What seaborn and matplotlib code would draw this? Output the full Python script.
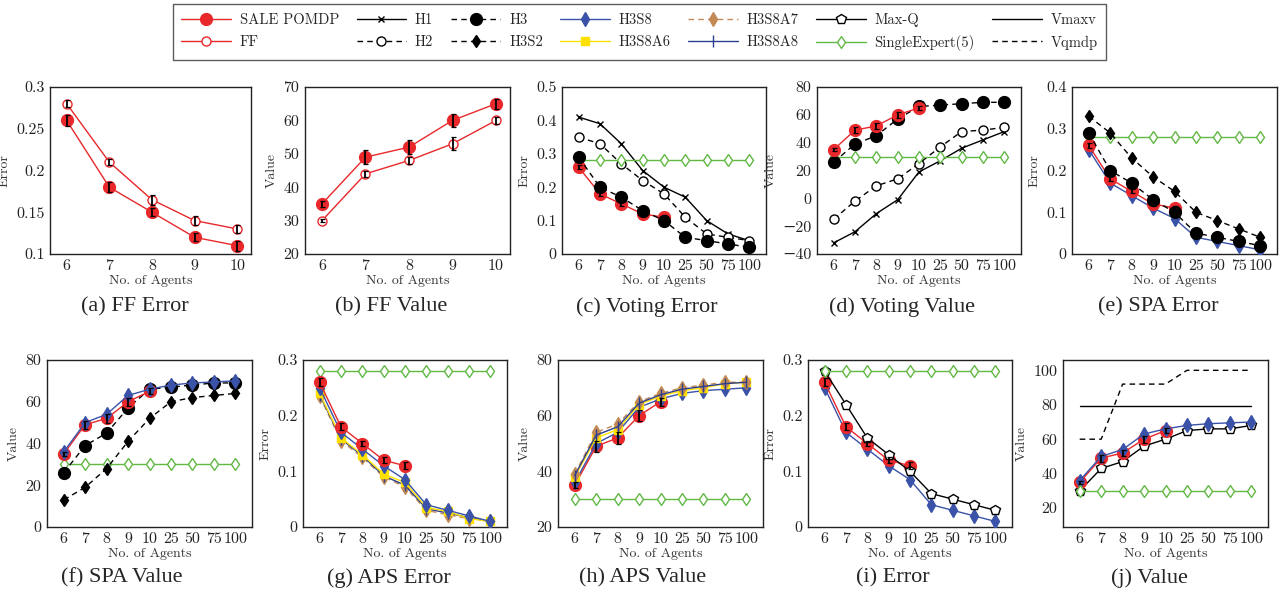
import numpy as np
import matplotlib.pyplot as plt
import seaborn as sns
from matplotlib.lines import Line2D

# x categories (evenly spaced on the axis)
AGENTS = [6, 7, 8, 9, 10, 25, 50, 75, 100]
FF_AGENTS = [6, 7, 8, 9, 10]

# SALE POMDP / FF (only up to 10 agents), with std bars
sale_err = [0.26, 0.18, 0.15, 0.12, 0.11]
sale_err_sd = [0.007, 0.006, 0.005, 0.005, 0.006]
sale_val = [35, 49, 52, 60, 65]
sale_val_sd = [1, 2, 2, 2, 1.5]
ff_err = [0.28, 0.21, 0.165, 0.14, 0.13]
ff_err_sd = [0.004, 0.004, 0.006, 0.005, 0.005]
ff_val = [30, 44, 48, 53, 60]
ff_val_sd = [0.5, 1, 1, 2, 1]

# heuristics
h1_err = [0.41, 0.39, 0.33, 0.25, 0.20, 0.17, 0.10, 0.06, 0.04]
h2_err = [0.35, 0.33, 0.27, 0.22, 0.18, 0.11, 0.06, 0.05, 0.04]
h3_err = [0.29, 0.20, 0.17, 0.13, 0.10, 0.05, 0.04, 0.03, 0.02]
h1_val = [-32, -24, -11, -1, 19, 27, 36, 42, 48]
h2_val = [-15, -2, 9, 14, 25, 37, 48, 49, 51]
h3_val = [26, 39, 45, 57, 66, 67, 68, 69, 69]
h3s2_err = [0.33, 0.29, 0.23, 0.185, 0.15, 0.10, 0.08, 0.06, 0.04]
h3s2_val = [13, 19, 28, 41, 52, 60, 62, 63, 64]
h3s8_err = [0.25, 0.17, 0.14, 0.11, 0.085, 0.04, 0.03, 0.02, 0.01]
h3s8_val = [36, 50, 54, 63, 66, 68, 69, 69.5, 70]
h3s8a6_err = [0.24, 0.16, 0.13, 0.095, 0.08, 0.035, 0.028, 0.015, 0.01]
h3s8a6_val = [38, 52, 55, 64, 67, 69, 70, 71.5, 72]
h3s8a7_err = [0.235, 0.155, 0.125, 0.09, 0.072, 0.03, 0.022, 0.015, 0.01]
h3s8a7_val = [39, 54, 57, 65, 68, 70, 71, 72, 72]
h3s8a8_err = [0.238, 0.158, 0.128, 0.092, 0.075, 0.033, 0.025, 0.017, 0.01]
h3s8a8_val = [38.5, 53, 56, 64.5, 67.5, 69.5, 70.5, 71.5, 72]
maxq_err = [0.28, 0.22, 0.16, 0.13, 0.10, 0.06, 0.05, 0.04, 0.03]
maxq_val = [30, 43, 47, 56, 60, 65, 66, 66, 68]
single_err = [0.28, 0.28, 0.28, 0.28, 0.28, 0.28, 0.28, 0.28, 0.28]
single_val = [30, 30, 30, 30, 30, 30, 30, 30, 30]
vmaxv = [79.5, 79.5, 79.5, 79.5, 79.5, 79.5, 79.5, 79.5, 79.5]
vqmdp = [60, 60, 92, 92, 92, 100, 100, 100, 100]

RED = "#e8282b"
BLUE = "#3a52a8"
NAVY = "#2b3f8f"
BROWN = "#c38a55"
YELLOW = "#ffe100"
GREEN = "#62b845"
DASH = (0, (4, 3))

STYLE = {
    "SALE POMDP": dict(color=RED, marker="o", ms=8.5, mfc=RED, mec=RED, ls="-"),
    "FF": dict(color=RED, marker="o", ms=6.5, mfc="white", mec=RED, ls="-"),
    "H1": dict(color="black", marker="x", ms=5, mfc="black", mec="black", ls="-"),
    "H2": dict(color="black", marker="o", ms=6.5, mfc="white", mec="black", ls=DASH),
    "H3": dict(color="black", marker="o", ms=8.5, mfc="black", mec="black", ls=DASH),
    "H3S2": dict(color="black", marker="d", ms=6.5, mfc="black", mec="black", ls=DASH),
    "H3S8": dict(color=BLUE, marker="d", ms=7, mfc=BLUE, mec=BLUE, ls="-"),
    "H3S8A6": dict(color=YELLOW, marker="s", ms=6, mfc=YELLOW, mec=YELLOW, ls="-"),
    "H3S8A7": dict(color=BROWN, marker="d", ms=7, mfc=BROWN, mec=BROWN, ls=DASH),
    "H3S8A8": dict(color=NAVY, marker="|", ms=8, mfc=NAVY, mec=NAVY, ls="-"),
    "Max-Q": dict(color="black", marker="p", ms=7.5, mfc="white", mec="black", ls="-"),
    "SingleExpert(5)": dict(color=GREEN, marker="d", ms=6.5, mfc="white", mec=GREEN, ls="-"),
    "Vmaxv": dict(color="black", marker="None", ms=0, mfc="black", mec="black", ls="-"),
    "Vqmdp": dict(color="black", marker="None", ms=0, mfc="black", mec="black", ls=DASH),
}

ERR_TICKS_FF = [0.1, 0.15, 0.2, 0.25, 0.3]

# caption, ylabel, ylim, yticks, x categories, [(series, values, sd)]
PANELS = [
    ("(a) FF Error", "Error", (0.1, 0.3), ERR_TICKS_FF, FF_AGENTS,
     [("FF", ff_err, ff_err_sd), ("SALE POMDP", sale_err, sale_err_sd)]),
    ("(b) FF Value", "Value", (20, 70), [20, 30, 40, 50, 60, 70], FF_AGENTS,
     [("FF", ff_val, ff_val_sd), ("SALE POMDP", sale_val, sale_val_sd)]),
    ("(c) Voting Error", "Error", (0, 0.5), [0, 0.1, 0.2, 0.3, 0.4, 0.5], AGENTS,
     [("H1", h1_err, None), ("H2", h2_err, None), ("SingleExpert(5)", single_err, None),
      ("SALE POMDP", sale_err, sale_err_sd), ("H3", h3_err, None)]),
    ("(d) Voting Value", "Value", (-40, 80), [-40, -20, 0, 20, 40, 60, 80], AGENTS,
     [("H1", h1_val, None), ("H2", h2_val, None), ("SingleExpert(5)", single_val, None),
      ("H3", h3_val, None), ("SALE POMDP", sale_val, sale_val_sd)]),
    ("(e) SPA Error", "Error", (0, 0.4), [0, 0.1, 0.2, 0.3, 0.4], AGENTS,
     [("SingleExpert(5)", single_err, None), ("H3S8", h3s8_err, None),
      ("SALE POMDP", sale_err, sale_err_sd), ("H3", h3_err, None), ("H3S2", h3s2_err, None)]),
    ("(f) SPA Value", "Value", (0, 80), [0, 20, 40, 60, 80], AGENTS,
     [("SingleExpert(5)", single_val, None), ("H3S2", h3s2_val, None), ("H3", h3_val, None),
      ("SALE POMDP", sale_val, sale_val_sd), ("H3S8", h3s8_val, None)]),
    ("(g) APS Error", "Error", (0, 0.3), [0, 0.1, 0.2, 0.3], AGENTS,
     [("SingleExpert(5)", single_err, None), ("H3S8A7", h3s8a7_err, None),
      ("H3S8A8", h3s8a8_err, None), ("H3S8A6", h3s8a6_err, None), ("H3S8", h3s8_err, None),
      ("SALE POMDP", sale_err, sale_err_sd)]),
    ("(h) APS Value", "Value", (20, 80), [20, 40, 60, 80], AGENTS,
     [("SingleExpert(5)", single_val, None), ("SALE POMDP", sale_val, sale_val_sd),
      ("H3S8", h3s8_val, None), ("H3S8A6", h3s8a6_val, None), ("H3S8A7", h3s8a7_val, None),
      ("H3S8A8", h3s8a8_val, None)]),
    ("(i) Error", "Error", (0, 0.3), [0, 0.1, 0.2, 0.3], AGENTS,
     [("H3S8", h3s8_err, None), ("SALE POMDP", sale_err, sale_err_sd),
      ("Max-Q", maxq_err, None), ("SingleExpert(5)", single_err, None)]),
    ("(j) Value", "Value", (9, 106), [20, 40, 60, 80, 100], AGENTS,
     [("Vmaxv", vmaxv, None), ("Vqmdp", vqmdp, None), ("Max-Q", maxq_val, None),
      ("SALE POMDP", sale_val, sale_val_sd), ("H3S8", h3s8_val, None),
      ("SingleExpert(5)", single_val, None)]),
]

# axes boxes in pixels (left, top, right, bottom)
BOXES = [(50, 87, 251, 254), (305, 87, 510, 254), (562, 87, 766, 254),
         (817, 87, 1021, 254), (1072, 87, 1277, 254),
         (47, 360, 252, 527), (303, 360, 507, 527), (558, 360, 763, 527),
         (808, 360, 1012, 527), (1063, 360, 1268, 527)]
CAP_X = [135, 391, 647, 902, 1158, 122, 389, 643, 893, 1149]

W, H = 1281, 593

sns.set_style("white")
plt.rcParams["font.family"] = ["cmr10", "DejaVu Serif"]
plt.rcParams["axes.unicode_minus"] = True


def draw(ax, name, vals, sd=None):
    st = STYLE[name]
    x = np.arange(len(vals))
    sns.lineplot(x=x, y=vals, ax=ax, errorbar=None, color=st["color"],
                 linestyle=st["ls"], marker=st["marker"], markersize=st["ms"],
                 markerfacecolor=st["mfc"], markeredgecolor=st["mec"],
                 markeredgewidth=1.0, linewidth=1.0, zorder=3)
    if sd is not None:
        ax.errorbar(x, vals, yerr=sd, fmt="none", ecolor="black",
                    elinewidth=1.3, capsize=1.8, capthick=0.9, zorder=4)


fig = plt.figure(figsize=(W / 100, H / 100), dpi=100)

for (cap, ylab, ylim, yticks, cats, series), box, cx in zip(PANELS, BOXES, CAP_X):
    l, t, r, b = box
    ax = fig.add_axes([l / W, 1 - b / H, (r - l) / W, (b - t) / H])
    for name, vals, sd in series:
        draw(ax, name, vals, sd)
    n = len(cats)
    if n == 5:
        ax.set_xlim(-0.39, n - 1 + 0.32)
    else:
        ax.set_xlim(-0.78, n - 1 + 0.78)
    ax.set_xticks(range(n), [str(c) for c in cats])
    ax.set_ylim(*ylim)
    ax.set_yticks(yticks, [f"{v:g}".replace("-", "\u2212") for v in yticks])
    ax.tick_params(length=0, pad=4, labelsize=11.5, colors="#222222")
    ax.set_xlabel("No. of Agents", fontsize=10, labelpad=1, color="#333333")
    ax.set_ylabel(ylab, fontsize=10, labelpad=4, color="#333333")
    for s in ax.spines.values():
        s.set_visible(True)
        s.set_color("#222222")
        s.set_linewidth(1.0)
    cy = 307 if t < 200 else 578
    fig.text(cx / W, 1 - cy / H, cap, ha="center", va="center", fontsize=16,
             family="Liberation Serif")

# shared legend at the top (column-wise fill -> two rows)
order = ["SALE POMDP", "FF", "H1", "H2", "H3", "H3S2", "H3S8", "H3S8A6",
         "H3S8A7", "H3S8A8", "Max-Q", "SingleExpert(5)", "Vmaxv", "Vqmdp"]
handles = []
for name in order:
    st = STYLE[name]
    handles.append(Line2D([], [], color=st["color"], linestyle=st["ls"], marker=st["marker"],
                          markersize=st["ms"], markerfacecolor=st["mfc"],
                          markeredgecolor=st["mec"], linewidth=1.0, label=name))
leg = fig.legend(handles=handles, loc="center", bbox_to_anchor=(639.5 / W, 1 - 32 / H),
                 ncols=7, fontsize=10.5, frameon=True, fancybox=False, edgecolor="#333333",
                 handlelength=3.4, columnspacing=1.2, handletextpad=0.6,
                 borderpad=0.6, labelspacing=0.6)
leg.get_frame().set_linewidth(1.0)

fig.savefig("out.png", dpi=100)
